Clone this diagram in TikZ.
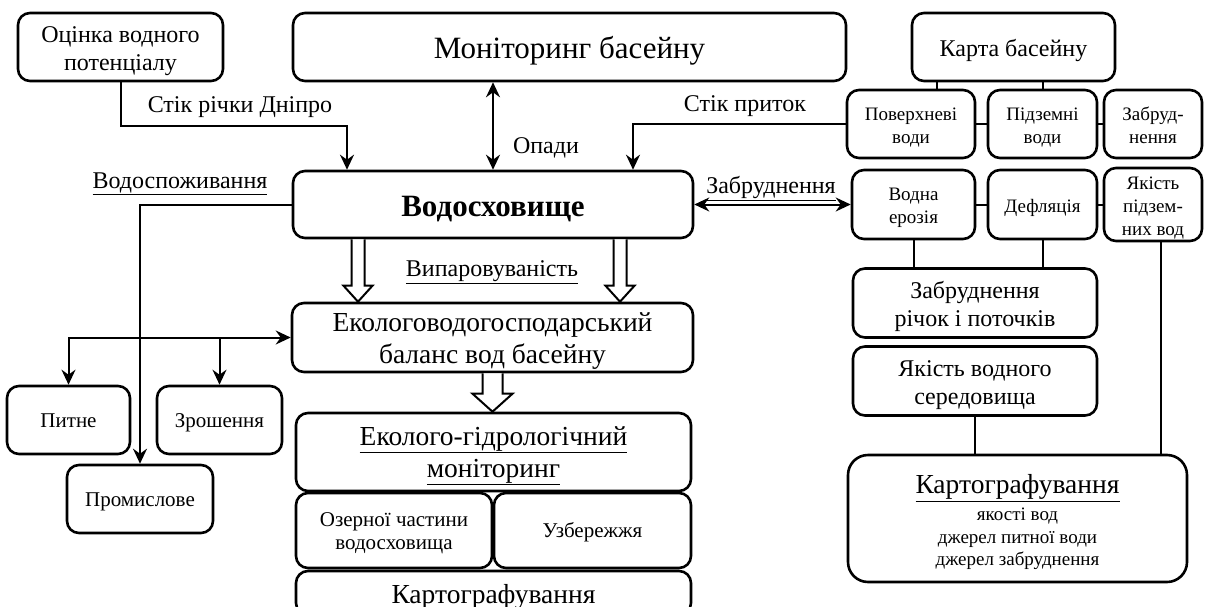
\documentclass[tikz,border=0pt]{standalone}
\usepackage{fontspec}
\setmainfont{Liberation Serif}
\usetikzlibrary{arrows.meta,calc}
\newcommand\bstrut{\vrule width 0pt height 0.83\baselineskip depth 0.17\baselineskip}
\begin{document}
\begin{tikzpicture}[x=1pt,y=-1pt,
  box/.style={draw,line width=2.6pt,rounded corners=12pt,align=center,inner sep=2pt,
    execute at begin node=\bstrut,execute at end node=\bstrut},
  ln/.style={line width=2pt},
  arr/.style={line width=2pt,-{Stealth[length=15pt,width=14pt,inset=5pt]}},
  arr2/.style={line width=2pt,{Stealth[length=15pt,width=14pt,inset=5pt]}-{Stealth[length=15pt,width=14pt,inset=5pt]}},
  lbl/.style={font=\fontsize{24}{28}\selectfont,inner sep=0pt},
  fat/.style={draw,line width=2pt,fill=white,line join=miter},
  f19/.style={font=\fontsize{19}{23}\selectfont},
  f21/.style={font=\fontsize{21}{23}\selectfont},
  f24/.style={font=\fontsize{24}{28}\selectfont},
  f27/.style={font=\fontsize{27.5}{32}\selectfont},
  f31/.style={font=\fontsize{31}{36}\selectfont}]
\newcommand\fatarrow[5]{
\path[fat] let \p1=#1, \p2=#2 in (\x1-#3pt,\y1) -- (\x1-#3pt,\y2+#5pt) -- (\x1-#4pt,\y2+#5pt)
  -- (\x1,\y2) -- (\x1+#4pt,\y2+#5pt) -- (\x1+#3pt,\y2+#5pt) -- (\x1+#3pt,\y1);
}
\useasboundingbox (0,0) rectangle (1209,607);
\node[box,f24,minimum width=205,minimum height=68] (ocinka) at (120.5,47) {\bstrut Оцінка водного\\потенціалу};
\node[box,f31,minimum width=553,minimum height=68] (monit) at (569.5,47) {Моніторинг басейну};
\node[box,f24,minimum width=203,minimum height=68] (karta) at (1013.5,47) {Карта басейну};
\node[box,f19,minimum width=128,minimum height=68] (pover) at (911,124) {\bstrut Поверхневі\\води};
\node[box,f19,minimum width=109,minimum height=68] (pidz) at (1042.5,124) {\bstrut Підземні\\води};
\node[box,f19,minimum width=98,minimum height=68] (zabr) at (1153,124) {\bstrut Забруд-\\нення};
\node[box,minimum width=400,minimum height=67,font=\fontsize{31}{36}\selectfont\bfseries] (vodo) at (493,204.5) {Водосховище};
\node[box,f19,minimum width=123,minimum height=69] (eroz) at (913.5,204.5) {\bstrut Водна\\ерозія};
\node[box,f19,minimum width=109,minimum height=69] (defl) at (1042.5,204.5) {Дефляція};
\node[box,minimum width=98,minimum height=69,font=\fontsize{19}{23}\selectfont] (yakpidz) at (1153,204.5) {\bstrut Якість\\підзем-\\них вод};
\node[box,f24,minimum width=244,minimum height=69] (zabrrich) at (975,303) {\bstrut Забруднення\\річок і поточків};
\node[box,f24,minimum width=244,minimum height=69] (yakvod) at (975,381) {\bstrut Якість водного\\середовища};
\node[box,rounded corners=20pt,minimum width=339,minimum height=127,font=\fontsize{19}{22.5}\selectfont] (kartoR) at (1017.5,518.5)
  {{\fontsize{27.5}{32}\selectfont\bstrut\underline{Картографування}}\\[5pt]якості вод\\джерел питної води\\джерел забруднення};
\node[box,f27,minimum width=401,minimum height=69] (bal) at (492.5,337.5) {\bstrut Екологоводогосподарський\\баланс вод басейну};
\node[box,f21,minimum width=123,minimum height=68] (pytne) at (68.5,420) {Питне};
\node[box,f21,minimum width=125,minimum height=68] (zrosh) at (219.5,420) {Зрошення};
\node[box,f21,minimum width=146,minimum height=68] (prom) at (140,499) {Промислове};
\node[box,f27,minimum width=395,minimum height=78] (ekohid) at (493.5,452) {\bstrut\underline{Еколого-гідрологічний}\\\underline{моніторинг}};
\node[box,f21,minimum width=196,minimum height=75] (ozer) at (394,530.5) {\bstrut Озерної частини\\водосховища};
\node[box,f21,minimum width=197,minimum height=75] (uzb) at (592.5,530.5) {Узбережжя};
\node[box,f27,minimum width=395,minimum height=44] (kartoB) at (493.5,593) {Картографування};
\node[lbl] (dnipro) at (240,107) {Стік річки Дніпро};
\node[lbl] (opady) at (546,148) {Опади};
\node[lbl] (prytok) at (745,106.5) {Стік приток};
\node[lbl] (spozh) at (180,184) {\underline{Водоспоживання}};
\node[lbl] (zabrl) at (771,188.5) {\underline{Забруднення}};
\node[lbl] (vypar) at (492,272) {\underline{Випаровуваність}};
\coordinate (dniprobend) at (347,126);
\draw[arr] (ocinka.south) |- (dniprobend) -- (vodo.north -| dniprobend);
\draw[arr2] (vodo.north |- monit.south) -- (vodo.north);
\draw[arr] (pover.west) -| ($(vodo.north)+(140,0)$);
\path (pover.north) ++(26,0) coordinate (pk);
\draw[ln] (pk) -- (pk |- karta.south);
\draw[ln] (pidz.north) -- (pidz.north |- karta.south);
\draw[ln] (pover) -- (pidz) (pidz) -- (zabr);
\draw[ln] (eroz) -- (defl) (defl) -- (yakpidz);
\draw[arr2] (vodo.east) -- (eroz.west);
\draw[ln] (eroz.south) -- (eroz.south |- zabrrich.north);
\draw[ln] (defl.south) -- (defl.south |- zabrrich.north);
\path (yakpidz.south) ++(8,0) coordinate (yp);
\draw[ln] (yp) -- (yp |- kartoR.north);
\draw[ln] (yakvod.south) -- (yakvod.south |- kartoR.north);
\draw[arr] (vodo.west) -| (prom.north);
\draw[arr2] (pytne.north) |- (bal.west);
\draw[arr] (bal.west -| zrosh.north) -- (zrosh.north);
\fatarrow{($(vodo.south)+(-135,0)$)}{($(bal.north)+(-134.5,0)$)}{6.5}{14.5}{16}
\fatarrow{($(vodo.south)+(127,0)$)}{($(bal.north)+(127.5,0)$)}{6.5}{14.5}{16}
\fatarrow{(bal.south)}{(ekohid.north)}{10}{20}{18}
\end{tikzpicture}
\end{document}
